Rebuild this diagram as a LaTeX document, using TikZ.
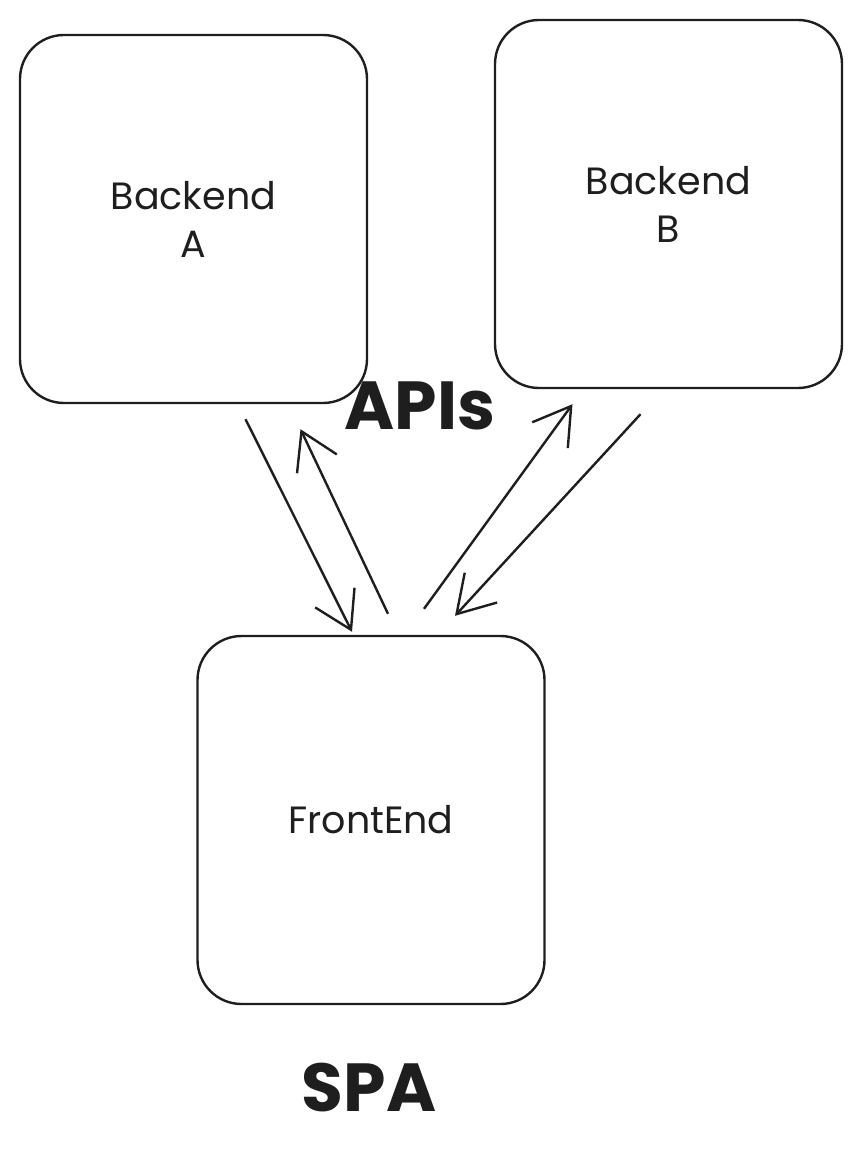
\documentclass[tikz,border=0pt]{standalone}
\usepackage{fontspec}
\setmainfont{Poppins}
\usetikzlibrary{arrows.meta,calc}
\definecolor{inkgray}{HTML}{1E1E1E}
\begin{document}
\begin{tikzpicture}[x=0.5pt,y=-0.5pt]
  % Define box, label and arrow styles
  \tikzstyle{sketchbox} = [draw=inkgray, line width=1.2pt, rectangle,
  rounded corners=22pt, minimum width=173.5pt, minimum height=184pt,
  align=center, text=inkgray, font=\fontsize{19}{24}\selectfont]
  \tikzstyle{bigtitle} = [text=inkgray, font=\fontsize{34}{40}\selectfont\bfseries]
  \tikzstyle{apiarrow} = [draw=inkgray, line width=1.2pt,
  -{Straight Barb[length=18pt, width=22pt, line width=1.2pt]}]

  \useasboundingbox (0,0) rectangle (862,1155);

  \node [sketchbox] (backA) at (193.5,219) {Backend\\A};
  \node [sketchbox] (backB) at (668.5,204) {Backend\\B};
  \node [sketchbox] (front) at (371,820) {FrontEnd};

  \node [bigtitle] (apis) at (420,406) {APIs};
  \node [bigtitle] (spa) at (369,1088) {SPA};

  % requests and responses
  \draw [apiarrow] ($(backA.south)+(52,15)$) -- ($(front.north)+(-19,-3)$);
  \draw [apiarrow] ($(front.north)+(17,-21)$) -- ($(backA.south)+(107,25)$);
  \draw [apiarrow] ($(front.north)+(53,-26)$) -- ($(backB.south)+(-96,15)$);
  \draw [apiarrow] ($(backB.south)+(-28,25)$) -- ($(front.north)+(84,-19)$);
\end{tikzpicture}
\end{document}
